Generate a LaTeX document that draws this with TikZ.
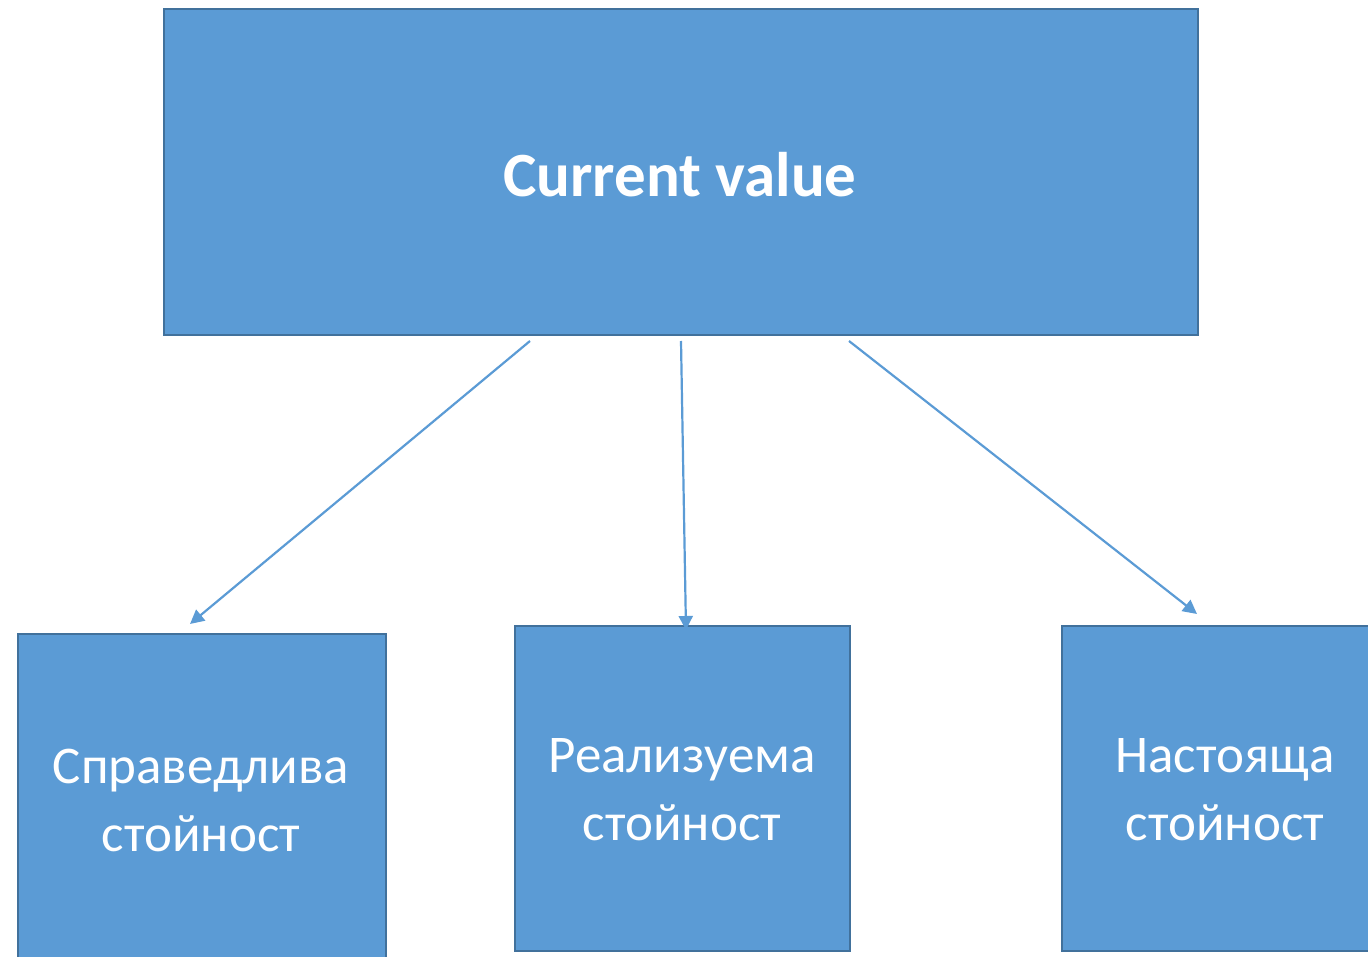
\documentclass[tikz,border=0pt]{standalone}
\usepackage{fontspec}
\setmainfont{Carlito}
\usetikzlibrary{arrows.meta}
\definecolor{boxfill}{HTML}{5B9BD5}
\definecolor{boxline}{HTML}{41719C}
\begin{document}
\begin{tikzpicture}[x=1pt,y=-1pt,
  box/.style={draw=boxline, fill=boxfill, line width=2pt, inner sep=0pt, anchor=north west, text=white, align=center},
  lbl/.style={text=white, align=center, font=\fontsize{53}{68}\selectfont},
  conn/.style={draw=boxfill, line width=2.2pt, -{Triangle[length=14pt,width=14pt]}}]
\useasboundingbox (0,0) rectangle (1368,957);
\node[box, minimum width=1034pt, minimum height=326pt] (top) at (163,8) {};
\node[text=white, font=\fontsize{63}{70}\selectfont\bfseries] (toplbl) at (680,175) {Current value};
\node[box, minimum width=368pt, minimum height=334pt] (b1) at (17,633) {};
\node[box, minimum width=335pt, minimum height=325pt] (b2) at (514,625) {};
\node[box, minimum width=328pt, minimum height=325pt] (b3) at (1061,625) {};
\node[lbl] (l1) at (201,800) {Справедлива\\стойност};
\node[lbl] (l2) at (682,790) {Реализуема\\стойност};
\node[lbl] (l3) at (1225,790) {Настояща\\стойност};
\coordinate (s1) at (530,341);
\coordinate (e1) at (190,624);
\coordinate (s2) at (681,341);
\coordinate (e2) at (686,630);
\coordinate (s3) at (849,341);
\coordinate (e3) at (1197,614);
\draw[conn] (s1) -- (e1);
\draw[conn] (s2) -- (e2);
\draw[conn] (s3) -- (e3);
\end{tikzpicture}
\end{document}
